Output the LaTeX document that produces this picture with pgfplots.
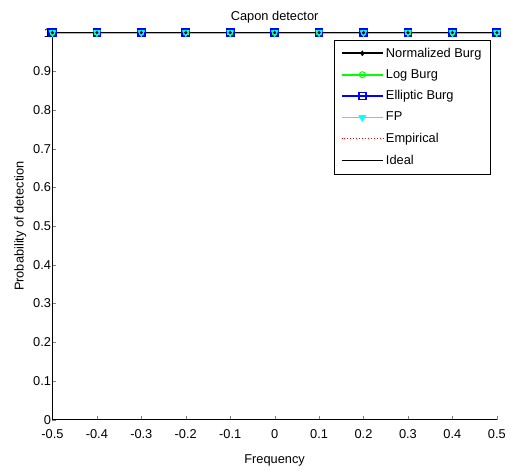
\documentclass[border=0pt]{standalone}
\usepackage{fontspec}
\setmainfont{Liberation Sans}
\usepackage{pgfplots}
\pgfplotsset{compat=1.18}
\definecolor{mgreen}{rgb}{0,1,0}
\definecolor{mblue}{rgb}{0,0,1}
\definecolor{mcyan}{rgb}{0,1,1}
\definecolor{mred}{rgb}{1,0,0}
\begin{document}
\fontsize{13}{15}\selectfont
\begin{tikzpicture}
\begin{axis}[
  at={(0,0)}, anchor=south west,
  scale only axis,
  width=449bp, height=391bp,
  xmin=-0.5, xmax=0.5, ymin=0, ymax=1,
  axis x line*=bottom, axis y line*=left,
  axis line style={-, black, line width=0.6pt},
  tick align=inside,
  major tick length=4bp,
  xtick={-0.5,-0.4,...,0.5},
  ytick={0,0.1,...,1},
  xticklabels={-0.5,-0.4,-0.3,-0.2,-0.1,0,0.1,0.2,0.3,0.4,0.5},
  yticklabels={0,0.1,0.2,0.3,0.4,0.5,0.6,0.7,0.8,0.9,1},
  tick label style={font=\fontsize{13}{15}\selectfont},
  xticklabel style={yshift=-6bp},
  yticklabel style={xshift=3bp},
  title={Capon detector},
  title style={yshift=-1bp, font=\fontsize{13}{15}\selectfont},
  xlabel={Frequency},
  ylabel={Probability of detection},
  label style={font=\fontsize{13}{15}\selectfont},
  xlabel style={yshift=-7bp},
  ylabel style={yshift=-2bp},
  clip=false,
  legend style={at={(0.6325,0.982)}, anchor=north west, draw=black,
    font=\fontsize{13}{15}\selectfont, row sep=6.5bp, inner xsep=7bp, inner ysep=6bp},
  legend cell align=left,
  legend image code/.code={
    \draw[#1] (0bp,0bp) -- (42bp,0bp);
    \draw[#1, only marks] plot coordinates {(21bp,0bp)};
  },
]
\addplot[black, line width=1.8pt, mark=diamond*, mark size=2.5pt, mark options={solid, line width=0.5pt}] coordinates {
(-0.5,1) (-0.4,1) (-0.3,1) (-0.2,1) (-0.1,1) (0,1) (0.1,1) (0.2,1) (0.3,1) (0.4,1) (0.5,1)};
\addlegendentry{Normalized Burg}
\addplot[mgreen, line width=1.8pt, mark=o, mark size=3pt, mark options={solid, line width=1pt, fill=none}] coordinates {
(-0.5,1) (-0.4,1) (-0.3,1) (-0.2,1) (-0.1,1) (0,1) (0.1,1) (0.2,1) (0.3,1) (0.4,1) (0.5,1)};
\addlegendentry{Log Burg}
\addplot[mblue, line width=1.8pt, mark=square, mark size=3.6pt, mark options={solid, line width=1.6pt, fill=none}] coordinates {
(-0.5,1) (-0.4,1) (-0.3,1) (-0.2,1) (-0.1,1) (0,1) (0.1,1) (0.2,1) (0.3,1) (0.4,1) (0.5,1)};
\addlegendentry{Elliptic Burg}
\addplot[mcyan, line width=1.8pt, mark=triangle*, mark size=4.2pt, mark options={solid, rotate=180, line width=0.5pt}] coordinates {
(-0.5,1) (-0.4,1) (-0.3,1) (-0.2,1) (-0.1,1) (0,1) (0.1,1) (0.2,1) (0.3,1) (0.4,1) (0.5,1)};
\addlegendentry{FP}
\addplot[mred, line width=1pt, dotted] coordinates {
(-0.5,1) (-0.4,1) (-0.3,1) (-0.2,1) (-0.1,1) (0,1) (0.1,1) (0.2,1) (0.3,1) (0.4,1) (0.5,1)};
\addlegendentry{Empirical}
\addplot[black, line width=1.4pt] coordinates {(-0.5,1) (0.5,1)};
\addlegendentry{Ideal}
\addplot[black, only marks, mark=*, mark size=1.4pt, forget plot] coordinates {
(-0.5,1) (-0.4,1) (-0.3,1) (-0.2,1) (-0.1,1) (0,1) (0.1,1) (0.2,1) (0.3,1) (0.4,1) (0.5,1)};
\end{axis}
\useasboundingbox (-53bp,-42bp) rectangle (457bp,424bp);
\end{tikzpicture}
\end{document}
